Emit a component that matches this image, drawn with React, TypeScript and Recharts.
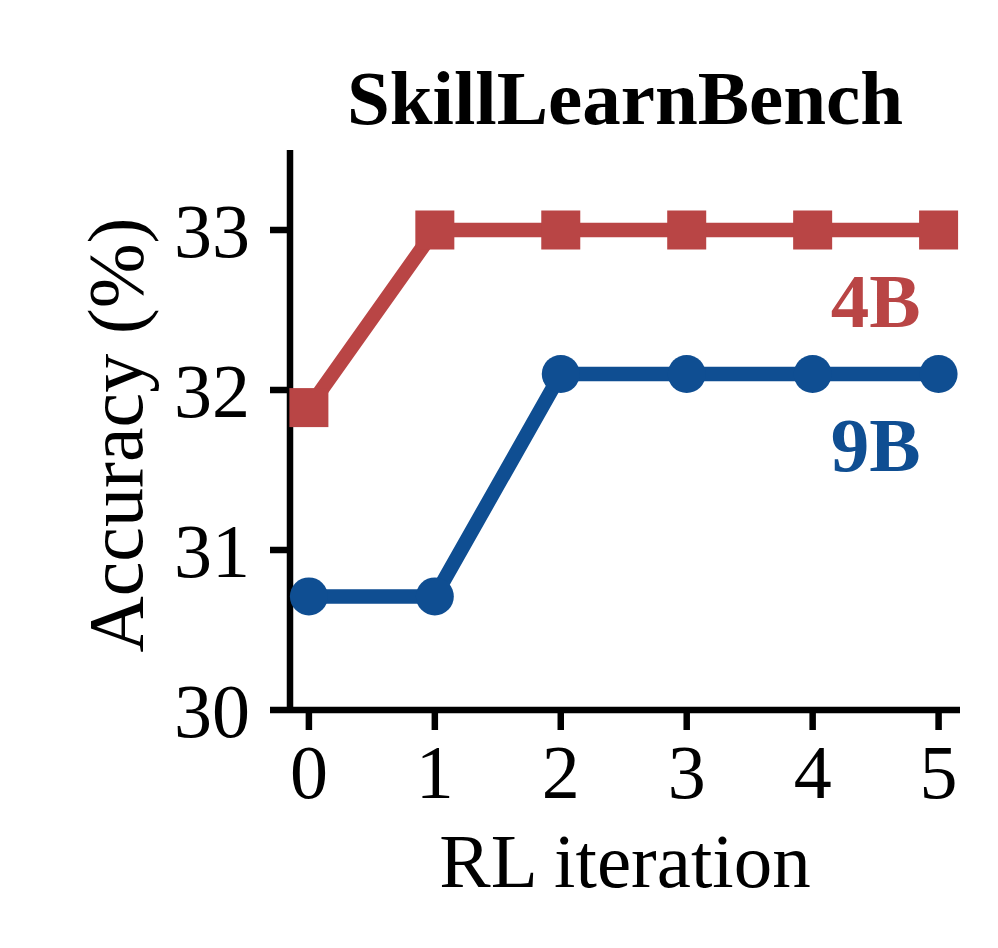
import React from 'react';
import { LineChart, Line, XAxis, YAxis, LabelList } from 'recharts';

const iterations = [0, 1, 2, 3, 4, 5];
const acc4B = [31.89, 33.0, 33.0, 33.0, 33.0, 33.0];
const acc9B = [30.71, 30.71, 32.1, 32.1, 32.1, 32.1];
const xTicks = [0, 1, 2, 3, 4, 5];
const yTicks = [30, 31, 32, 33];

const RED = '#B94545';
const BLUE = '#0F4E92';
const FONT = '"Liberation Serif", "Times New Roman", Times, serif';

const data = iterations.map((it, i) => ({ it, m4: acc4B[i], m9: acc9B[i] }));

const SquareDot = (p: any) => {
  const { cx, cy, index } = p;
  if (cx == null || cy == null) return <g key={`s${index}`} />;
  return <rect key={`s${index}`} x={cx - 19.5} y={cy - 19.5} width={39} height={39} fill={RED} />;
};

const endLabel = (text: string, color: string) => (p: any) => {
  const { x, y, index } = p;
  if (index !== iterations.length - 1) return null;
  return (
    <text
      key={`lab${text}`}
      x={Number(x) - 18}
      y={Number(y) + 97}
      textAnchor="end"
      fill={color}
      fontFamily={FONT}
      fontWeight="bold"
      fontSize={77}
    >
      {text}
    </text>
  );
};

export default function App() {
  return (
    <div style={{ position: 'absolute', left: 0, top: 0, width: 998, height: 948, background: '#fff' }}>
      <div
        style={{
          position: 'absolute',
          left: 0,
          width: 1250,
          top: 60,
          textAlign: 'center',
          fontFamily: FONT,
          fontWeight: 'bold',
          fontSize: 77,
          lineHeight: '77px',
          color: '#000',
          whiteSpace: 'nowrap',
        }}
      >
        SkillLearnBench
      </div>
      <div style={{ position: 'absolute', left: 0, top: 0 }}>
        <LineChart
          width={998}
          height={948}
          data={data}
          margin={{ top: 150, right: 38, bottom: 138, left: 170 }}
        >
          <XAxis
            dataKey="it"
            type="number"
            domain={[-0.15, 5.17]}
            ticks={xTicks}
            allowDecimals={false}
            height={100}
            axisLine={{ stroke: '#000', strokeWidth: 6.5 }}
            tickLine={{ stroke: '#000', strokeWidth: 6.5 }}
            tickSize={20}
            tickMargin={14}
            tick={{ fill: '#000', fontSize: 76, fontFamily: FONT }}
            label={{
              content: (props: any) => {
                const vb = props.viewBox || {};
                return (
                  <text
                    x={vb.x + vb.width / 2}
                    y={vb.y + 177}
                    textAnchor="middle"
                    fill="#000"
                    fontFamily={FONT}
                    fontSize={77}
                  >
                    RL iteration
                  </text>
                );
              },
            }}
          />
          <YAxis
            type="number"
            domain={[30, 33.5]}
            ticks={yTicks}
            width={120}
            axisLine={{ stroke: '#000', strokeWidth: 6.5 }}
            tickLine={{ stroke: '#000', strokeWidth: 6.5 }}
            tickSize={20}
            tickMargin={20}
            tick={{ fill: '#000', fontSize: 76, fontFamily: FONT }}
            label={{
              content: (props: any) => {
                const vb = props.viewBox || {};
                const cx = vb.x - 28;
                const cy = vb.y + vb.height / 2 + 5;
                return (
                  <text
                    x={cx}
                    y={cy}
                    textAnchor="middle"
                    transform={`rotate(-90 ${cx} ${cy})`}
                    fill="#000"
                    fontFamily={FONT}
                    fontSize={78}
                  >
                    Accuracy (%)
                  </text>
                );
              },
            }}
          />
          <Line
            dataKey="m9"
            stroke={BLUE}
            strokeWidth={14.5}
            dot={{ r: 19, fill: BLUE, stroke: 'none' }}
            activeDot={false}
            isAnimationActive={false}
          >
            <LabelList dataKey="m9" content={endLabel('9B', BLUE)} />
          </Line>
          <Line
            dataKey="m4"
            stroke={RED}
            strokeWidth={14.5}
            dot={SquareDot}
            activeDot={false}
            isAnimationActive={false}
          >
            <LabelList dataKey="m4" content={endLabel('4B', RED)} />
          </Line>
        </LineChart>
      </div>
    </div>
  );
}
